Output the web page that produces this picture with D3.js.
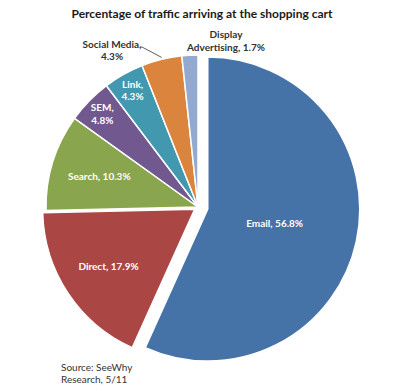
<!DOCTYPE html>
<html><head><meta charset="utf-8">
<script src="https://cdn.jsdelivr.net/npm/d3@7"></script>
<style>body{margin:0;background:#fff}svg{display:block}</style>
</head><body>
<script>
const categories = ["Email","Direct","Search","SEM","Link","Social Media","Display Advertising"];
const values = [56.8,17.9,10.3,4.8,4.3,4.3,1.7];
const colors = ["#4572A7","#AA4643","#89A54E","#71588F","#4198AF","#DB843D","#93A9CF"];
const title = "Percentage of traffic arriving at the shopping cart";
const sourceLines = ["Source: SeeWhy","Research, 5/11"];

const W=400,H=391, cx=198, cy=207, R=152;
const svg=d3.select("body").append("svg").attr("width",W).attr("height",H);
svg.append("text").attr("x",202).attr("y",18).attr("text-anchor","middle")
  .attr("font-family","Lato").attr("font-weight","bold").attr("font-size",12).attr("fill","#1a1a1a").text(title);

const pie=d3.pie().sort(null).value(d=>d)(values);
const arc=d3.arc().innerRadius(0).outerRadius(R);
const explode=[10,4,0,0,0,0,0];
const g=svg.append("g").attr("transform",`translate(${cx},${cy})`);
const fmt=v=>v.toFixed(1)+"%";
pie.forEach((p,i)=>{
  const m=(p.startAngle+p.endAngle)/2;
  const dx=Math.sin(m)*explode[i], dy=-Math.cos(m)*explode[i];
  const sg=g.append("g").attr("transform",`translate(${dx},${dy})`);
  sg.append("path").attr("d",arc(p)).attr("fill",colors[i]).attr("stroke","#fff").attr("stroke-width",1.5);
});
// inside labels
const inside={0:{r:0.45,lines:1},1:{r:0.68,lines:1},2:{r:0.68,lines:1},3:{r:0.88,lines:2},4:{r:0.88,lines:2}};
pie.forEach((p,i)=>{
  const cfg=inside[i]; if(!cfg) return;
  const m=(p.startAngle+p.endAngle)/2;
  const rr=cfg.r*R+explode[i];
  const x=Math.sin(m)*rr, y=-Math.cos(m)*rr;
  const t=g.append("text").attr("text-anchor","middle").attr("font-family","Lato").attr("font-weight","bold")
    .attr("font-size",10).attr("fill","#fff");
  if(cfg.lines===1){ t.append("tspan").attr("x",x).attr("y",y+3.5).text(categories[i]+", "+fmt(values[i])); }
  else { t.append("tspan").attr("x",x).attr("y",y-2.5).text(categories[i]+",");
         t.append("tspan").attr("x",x).attr("y",y+10).text(fmt(values[i])); }
});
// outside labels
const sm=pie[5], smm=(sm.startAngle+sm.endAngle)/2;
const ex=Math.sin(smm)*R, ey=-Math.cos(smm)*R;
g.append("path").attr("d",`M${ex},${ey-2}L${-56},${-160}L${-58},${-160}`).attr("fill","none").attr("stroke","#333").attr("stroke-width",0.8);
const t5=g.append("text").attr("text-anchor","middle").attr("font-family","Lato").attr("font-weight","bold").attr("font-size",10).attr("fill","#333");
t5.append("tspan").attr("x",-86).attr("y",-159).text(categories[5]+",");
t5.append("tspan").attr("x",-86).attr("y",-147).text(fmt(values[5]));
const parts=categories[6].split(" ");
const t6=g.append("text").attr("text-anchor","middle").attr("font-family","Lato").attr("font-weight","bold").attr("font-size",10).attr("fill","#333");
t6.append("tspan").attr("x",28).attr("y",-169).text(parts[0]);
t6.append("tspan").attr("x",28).attr("y",-156).text(parts[1]+", "+fmt(values[6]));

const s=svg.append("text").attr("font-family","Lato").attr("font-size",10).attr("fill","#333");
sourceLines.forEach((l,i)=>s.append("tspan").attr("x",61).attr("y",371+i*12).text(l));
</script>
</body></html>
